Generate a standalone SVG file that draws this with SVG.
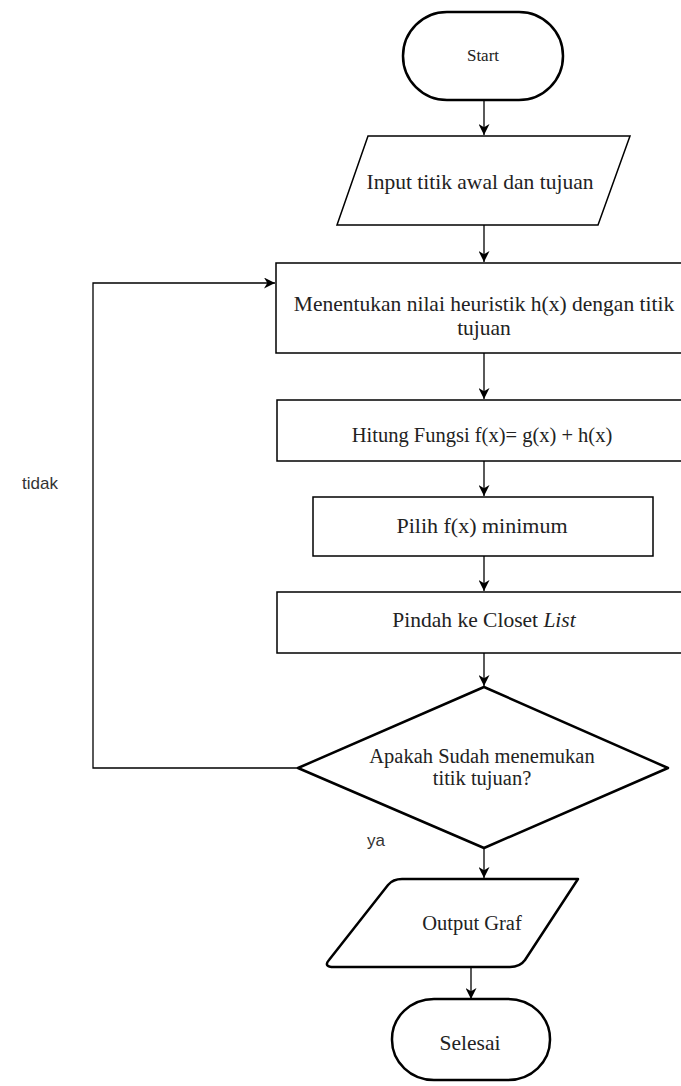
<svg xmlns="http://www.w3.org/2000/svg" width="681" height="1086" viewBox="0 0 681 1086">
<style>
.s{fill:#fff;stroke:#000;stroke-width:1.5}
.t{fill:#fff;stroke:#000;stroke-width:2.5;stroke-linejoin:round}
.l{fill:none;stroke:#000;stroke-width:1.3}
text{font-family:"Liberation Serif","Times New Roman",serif;fill:#222;text-anchor:middle}
.lab{font-family:"Liberation Sans",Arial,sans-serif;fill:#333;text-anchor:start;font-size:17px}
</style>
<defs>
<marker id="a" viewBox="0 0 10 10" refX="10" refY="5" markerWidth="11" markerHeight="11" markerUnits="userSpaceOnUse" orient="auto">
<path d="M0,0 L10,5 L0,10 L3,5 Z" fill="#000"/>
</marker>
</defs>
<rect width="681" height="1086" fill="#fff"/>
<g id="connectors">
<line class="l" x1="484" y1="100" x2="484" y2="135" marker-end="url(#a)"/>
<line class="l" x1="484" y1="225" x2="484" y2="262" marker-end="url(#a)"/>
<line class="l" x1="484" y1="353" x2="484" y2="399" marker-end="url(#a)"/>
<line class="l" x1="484" y1="461" x2="484" y2="496" marker-end="url(#a)"/>
<line class="l" x1="484" y1="556" x2="484" y2="591" marker-end="url(#a)"/>
<line class="l" x1="484" y1="653" x2="484" y2="686" marker-end="url(#a)"/>
<polyline class="l" points="298,768 93,768 93,283 275,283" marker-end="url(#a)"/>
<line class="l" x1="484" y1="848" x2="484" y2="878" marker-end="url(#a)"/>
<line class="l" x1="471" y1="967" x2="471" y2="999" marker-end="url(#a)"/>
<text class="lab" x="22" y="489">tidak</text>
<text class="lab" x="367" y="846">ya</text>
</g>
<g id="start">
<rect class="t" x="403" y="12" width="160" height="88" rx="44" ry="44"/>
<text x="483" y="61" font-size="17">Start</text>
</g>
<g id="input">
<polygon class="s" points="368,136 630,136 598,225 337,225"/>
<text x="480" y="189" font-size="21.5">Input titik awal dan tujuan</text>
</g>
<g id="heuristik">
<rect class="s" x="276" y="263" width="410" height="90"/>
<text x="484" y="311" font-size="21.5">Menentukan nilai heuristik h(x) dengan titik</text>
<text x="484" y="335" font-size="21.5">tujuan</text>
</g>
<g id="hitung">
<rect class="s" x="277" y="400" width="410" height="61"/>
<text x="482" y="442" font-size="20.5">Hitung Fungsi f(x)= g(x) + h(x)</text>
</g>
<g id="pilih">
<rect class="s" x="313" y="497" width="340" height="59"/>
<text x="482" y="533" font-size="22">Pilih f(x) minimum</text>
</g>
<g id="pindah">
<rect class="s" x="277" y="592" width="410" height="61"/>
<text x="484" y="627" font-size="21.5">Pindah ke Closet <tspan font-style="italic">List</tspan></text>
</g>
<g id="decision">
<polygon class="t" points="484,687 668,768 484,848 298,768"/>
<text x="482" y="763" font-size="20.5">Apakah Sudah menemukan</text>
<text x="482" y="785" font-size="20.5">titik tujuan?</text>
</g>
<g id="output">
<path class="t" d="M402,879 L578,879 L525,960 Q520,967 510,967 L334,967 Q323,967 329,960 L388,885 Q393,879 402,879 Z"/>
<text x="472" y="930" font-size="20.5">Output Graf</text>
</g>
<g id="selesai">
<rect class="t" x="392" y="999" width="158" height="81" rx="42" ry="40"/>
<text x="470" y="1050" font-size="21.5">Selesai</text>
</g>
</svg>
